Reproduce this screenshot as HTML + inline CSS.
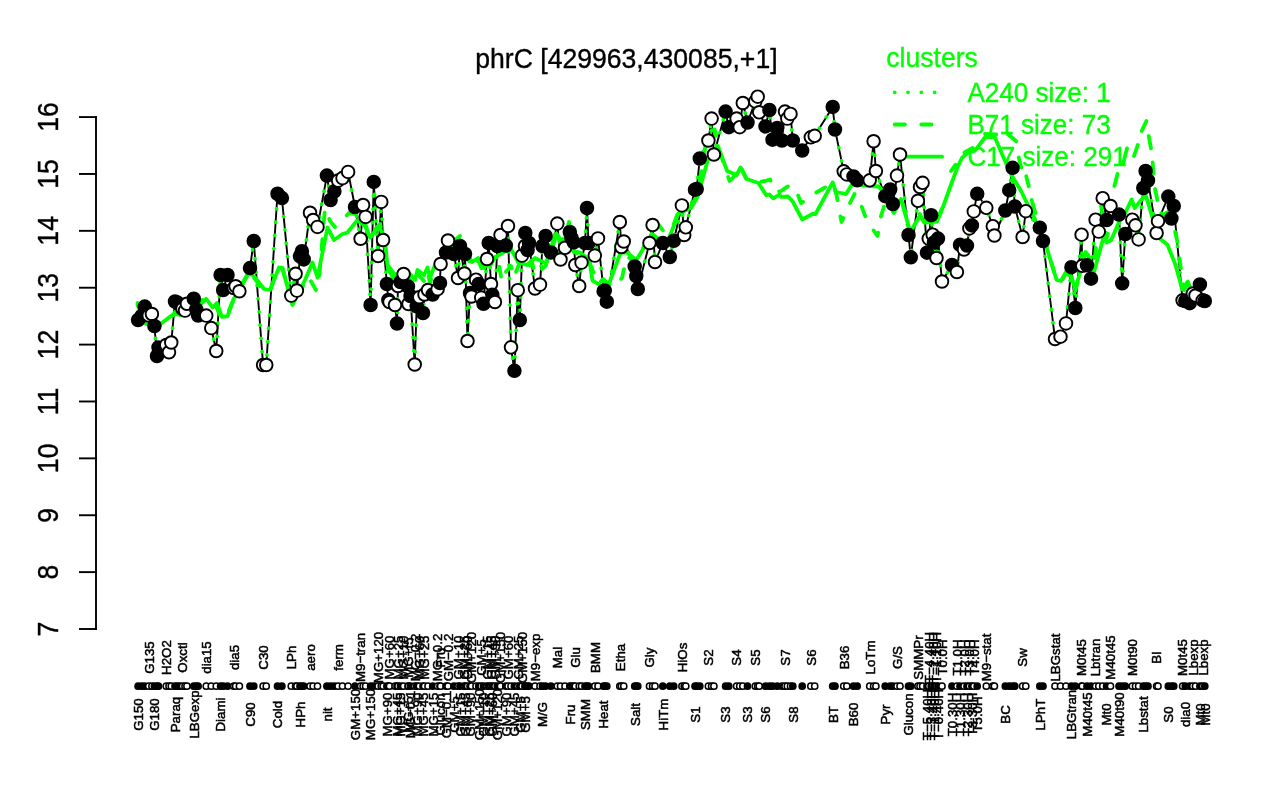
<!DOCTYPE html>
<html lang="en">
<head>
<meta charset="utf-8">
<title>phrC [429963,430085,+1]</title>
<style>
html,body{margin:0;padding:0;background:#fff;}
body{width:1280px;height:800px;overflow:hidden;position:relative;font-family:"Liberation Sans", sans-serif;}
svg{position:absolute;left:0;top:0;display:block;}
text{font-family:"Liberation Sans", sans-serif;}
.big{font-size:26.6px;}
.xl{font-size:13.3px;fill:#000;stroke:#000;stroke-width:0.5;text-anchor:middle;}
.g{fill:#00ff00;stroke:#00ff00;stroke-width:0.35;}
.k{fill:#000;stroke:#000;stroke-width:0.35;}
.pt{stroke:#000;stroke-width:1.9;}
.rg{stroke:#000;stroke-width:1.5;}
</style>
</head>
<body>
<svg width="1280" height="800" viewBox="0 0 1280 800">
<rect x="0" y="0" width="1280" height="800" fill="#fff"/>
<text class="big k" transform="translate(626.4,67.8) scale(1,1.04)" text-anchor="middle">phrC [429963,430085,+1]</text>
<g stroke="#000" stroke-width="1.9" fill="none" stroke-linecap="butt">
<path d="M96,116.15 V629.95"/>
<path d="M79,629 H96.95"/>
<path d="M79,572.12 H96.95"/>
<path d="M79,515.24 H96.95"/>
<path d="M79,458.36 H96.95"/>
<path d="M79,401.48 H96.95"/>
<path d="M79,344.6 H96.95"/>
<path d="M79,287.72 H96.95"/>
<path d="M79,230.84 H96.95"/>
<path d="M79,173.96 H96.95"/>
<path d="M79,117.08 H96.95"/>
</g>
<text class="big k" transform="translate(58,629) rotate(-90) scale(1,1.08)" text-anchor="middle">7</text>
<text class="big k" transform="translate(58,572.12) rotate(-90) scale(1,1.08)" text-anchor="middle">8</text>
<text class="big k" transform="translate(58,515.24) rotate(-90) scale(1,1.08)" text-anchor="middle">9</text>
<text class="big k" transform="translate(58,458.36) rotate(-90) scale(1,1.08)" text-anchor="middle">10</text>
<text class="big k" transform="translate(58,401.48) rotate(-90) scale(1,1.08)" text-anchor="middle">11</text>
<text class="big k" transform="translate(58,344.6) rotate(-90) scale(1,1.08)" text-anchor="middle">12</text>
<text class="big k" transform="translate(58,287.72) rotate(-90) scale(1,1.08)" text-anchor="middle">13</text>
<text class="big k" transform="translate(58,230.84) rotate(-90) scale(1,1.08)" text-anchor="middle">14</text>
<text class="big k" transform="translate(58,173.96) rotate(-90) scale(1,1.08)" text-anchor="middle">15</text>
<text class="big k" transform="translate(58,117.08) rotate(-90) scale(1,1.08)" text-anchor="middle">16</text>
<polyline fill="none" stroke="#000" stroke-width="1.9" stroke-linejoin="round" points="138.1,320 141.6,316 144.75,306.6 148.75,315.5 151.9,314 154.4,326 157,356 158.5,347.5 166.25,345 169,352.25 171.25,342.5 175,301.5 177.25,302.5 179.4,304.4 182.5,308.75 185,310.6 186.9,303.75 193.75,298.75 196.25,309.4 198.1,315.6 206.25,315.6 211.25,328.1 216.25,351 220.6,275 223.1,290 227.5,275 233.75,288 235.6,286.25 239.4,291.25 250,268.1 253.75,241 263.1,365 266.25,365 277.5,193.75 281.9,198.1 291.25,295.6 295.6,273.75 296.9,290.6 300,256.25 301.9,251.25 303.75,259.4 310,212.75 313.1,220 317.5,226.9 326.9,175.6 330.6,200 334.4,191.25 338.1,180.6 342.5,178.1 348.1,171.9 355,207 360.6,238.75 363.1,205 365.6,216.9 370.6,305 373.75,181.9 378.1,256 381.25,201.9 383.1,240 386.9,284 388.3,300 389.5,302 395,305 397,323.5 398,286 400.5,282 403.6,274 408,286.5 408.5,304 410.5,296 414.7,364.5 416.7,306.3 419.3,297.2 423,313 424.5,294.5 428,290 432.7,294.5 437.6,289.2 440,283 440.6,264 446,252.5 448,240.5 454,254 458,278 460,246 464.4,273.5 465,254 467.5,341 470,293 471.5,296.5 476,279.7 478.7,284 481.2,297.6 483.5,303.8 487,259 488.7,243 491,284 492.3,294.7 494.9,302 497.3,246 500.5,235 505.8,245.5 508,226 511,347.3 514.4,370.8 517.8,290.2 519.8,320 522,255.6 525,246 525.3,233 527.6,250 529,243 535,288.5 540,284.6 542.5,246 545.6,236 551,252.5 557.3,223.6 560.5,259.5 565,247.8 569.8,232 571.5,238 573.75,242.3 575.3,265 579.2,286 581.5,262.6 585,243 587,208 588.5,243 594.8,255.6 598,238.4 603.6,291.2 604.8,290.6 606.8,301.7 619.8,222 621.4,247 623.75,241.5 634.7,266.5 636.25,276 637.8,289 649.5,243 652.6,225 655,262 662.8,243 669.8,257 673.75,240.8 681.9,205.4 684.2,235 685.8,227.3 695,189.7 696.7,189 699.8,158.5 708.4,140.5 711.6,118.6 713.9,154.5 725.6,111.6 728.75,127.2 736.6,118.6 739.7,127.2 742.8,103 747.5,122.5 755.3,101.4 757.7,96.7 759.2,112.3 765.5,126.4 769.4,110 772.5,139.7 777.2,128 781.9,140.5 785,111.6 787.3,118.6 790.5,113.9 792.8,140.5 802.2,150.6 810.8,137.3 814.7,135.8 832.7,106.9 835,129.5 843.7,171.3 846.8,174.4 853.5,176.4 857.2,180.3 869.7,180.3 873.6,141.25 875.9,171 885.2,196.2 890.2,189.5 892.9,204 897,175.6 900,154.5 908.5,235 910.8,257.3 917.9,200.8 920,187 922.6,182.8 927,252.7 928.75,238.6 931.2,215.2 932.7,234.7 934,242.5 936.5,258 938,238.6 942,281.5 952,265 956.9,272 960,244.8 964,249.5 967,245.6 969.4,228.4 971.9,225.4 973.8,211.4 977.2,193.8 986.3,207.8 992.8,226.2 994.4,235.5 1005.3,210.5 1009.2,190.2 1012.6,167.8 1014.8,206.5 1022.6,237 1025.8,211.2 1039.8,227.7 1043,241 1055,339 1060.5,336.7 1066,323.4 1071.4,267.2 1075.3,308 1081.6,234.7 1082.3,265.8 1087,265.3 1091,278.7 1095.6,219.7 1098.75,231.6 1102.7,198.2 1106.6,220 1110.5,206 1119,214.6 1122.2,283.3 1125.3,234 1132.3,219.7 1135.5,225.3 1138.6,239.4 1143.3,188 1145.6,171 1148,180.5 1156.6,233 1158,221.2 1168.3,196.6 1171.4,218.5 1173.75,206 1182.6,300.3 1185.3,301 1189.7,303.2 1192.8,293.5 1195.5,295.5 1199.9,284.5 1202.7,300.3 1204.8,301"/>
<polyline fill="none" stroke="#00ff00" stroke-width="3.8" stroke-dasharray="0.01 13.3" stroke-linecap="round" stroke-linejoin="round" points="138.1,320 141.6,316 144.75,306.6 148.75,315.5 151.9,314 154.4,326 157,356 158.5,347.5 166.25,345 169,352.25 171.25,342.5 175,301.5 177.25,302.5 179.4,304.4 182.5,308.75 185,310.6 186.9,303.75 193.75,298.75 196.25,309.4 198.1,315.6 206.25,315.6 211.25,328.1 216.25,351 220.6,275 223.1,290 227.5,275 233.75,288 235.6,286.25 239.4,291.25 250,268.1 253.75,241 263.1,365 266.25,365 277.5,193.75 281.9,198.1 291.25,295.6 295.6,273.75 296.9,290.6 300,256.25 301.9,251.25 303.75,259.4 310,212.75 313.1,220 317.5,226.9 326.9,175.6 330.6,200 334.4,191.25 338.1,180.6 342.5,178.1 348.1,171.9 355,207 360.6,238.75 363.1,205 365.6,216.9 370.6,305 373.75,181.9 378.1,256 381.25,201.9 383.1,240 386.9,284 388.3,300 389.5,302 395,305 397,323.5 398,286 400.5,282 403.6,274 408,286.5 408.5,304 410.5,296 414.7,364.5 416.7,306.3 419.3,297.2 423,313 424.5,294.5 428,290 432.7,294.5 437.6,289.2 440,283 440.6,264 446,252.5 448,240.5 454,254 458,278 460,246 464.4,273.5 465,254 467.5,341 470,293 471.5,296.5 476,279.7 478.7,284 481.2,297.6 483.5,303.8 487,259 488.7,243 491,284 492.3,294.7 494.9,302 497.3,246 500.5,235 505.8,245.5 508,226 511,347.3 514.4,370.8 517.8,290.2 519.8,320 522,255.6 525,246 525.3,233 527.6,250 529,243 535,288.5 540,284.6 542.5,246 545.6,236 551,252.5 557.3,223.6 560.5,259.5 565,247.8 569.8,232 571.5,238 573.75,242.3 575.3,265 579.2,286 581.5,262.6 585,243 587,208 588.5,243 594.8,255.6 598,238.4 603.6,291.2 604.8,290.6 606.8,301.7 619.8,222 621.4,247 623.75,241.5 634.7,266.5 636.25,276 637.8,289 649.5,243 652.6,225 655,262 662.8,243 669.8,257 673.75,240.8 681.9,205.4 684.2,235 685.8,227.3 695,189.7 696.7,189 699.8,158.5 708.4,140.5 711.6,118.6 713.9,154.5 725.6,111.6 728.75,127.2 736.6,118.6 739.7,127.2 742.8,103 747.5,122.5 755.3,101.4 757.7,96.7 759.2,112.3 765.5,126.4 769.4,110 772.5,139.7 777.2,128 781.9,140.5 785,111.6 787.3,118.6 790.5,113.9 792.8,140.5 802.2,150.6 810.8,137.3 814.7,135.8 832.7,106.9 835,129.5 843.7,171.3 846.8,174.4 853.5,176.4 857.2,180.3 869.7,180.3 873.6,141.25 875.9,171 885.2,196.2 890.2,189.5 892.9,204 897,175.6 900,154.5 908.5,235 910.8,257.3 917.9,200.8 920,187 922.6,182.8 927,252.7 928.75,238.6 931.2,215.2 932.7,234.7 934,242.5 936.5,258 938,238.6 942,281.5 952,265 956.9,272 960,244.8 964,249.5 967,245.6 969.4,228.4 971.9,225.4 973.8,211.4 977.2,193.8 986.3,207.8 992.8,226.2 994.4,235.5 1005.3,210.5 1009.2,190.2 1012.6,167.8 1014.8,206.5 1022.6,237 1025.8,211.2 1039.8,227.7 1043,241 1055,339 1060.5,336.7 1066,323.4 1071.4,267.2 1075.3,308 1081.6,234.7 1082.3,265.8 1087,265.3 1091,278.7 1095.6,219.7 1098.75,231.6 1102.7,198.2 1106.6,220 1110.5,206 1119,214.6 1122.2,283.3 1125.3,234 1132.3,219.7 1135.5,225.3 1138.6,239.4 1143.3,188 1145.6,171 1148,180.5 1156.6,233 1158,221.2 1168.3,196.6 1171.4,218.5 1173.75,206 1182.6,300.3 1185.3,301 1189.7,303.2 1192.8,293.5 1195.5,295.5 1199.9,284.5 1202.7,300.3 1204.8,301"/>
<polyline fill="none" stroke="#00ff00" stroke-width="3.8" stroke-dasharray="10.2 16.4" stroke-linecap="round" stroke-linejoin="round" points="137.5,303 146,322 156,328 162.5,324 171,318 175,312 180,313 190,307 202.5,300 210,309 216,306 221,318 226,318 232.5,302 240,288 249,271 255,279 264,292 270,291 279,266 282.5,268 292.5,306 305,282 308,276 316.5,291 319,280 325,208 330,221 335,227 341,221 349,213 357.5,214 365,222 370,240 376,228 380,224 385,244 387.5,268 395,281 405,274 410,280 415,286 417.5,274 424,281 427.5,271 430,283 435,268 445,256 450,246 455,240 460,236 466,254 472,268 478,260 484,274 490,266 497,254 502,282 505.8,272 511,266 513.6,278 520,262 527,270 532,262 535,275 545.6,266 553.4,240 557,228 560,243 566,232 569,222 573.75,252 580,254 589.4,262 598,284 603.4,279 609.7,286 616,284 622,278 626.9,256 636.25,264 644,246 651.9,230 658,224 665,233 673.75,224 678.4,212 691,206 697.5,195 703,160 708,132 714.7,129.5 720,152 725.6,169.4 729.5,181 736.6,174 740.5,166 746.7,180 758.4,182 765,181 770,179.5 775,192 781,191 790,185 796,190 801,203 806,200 810,196 819,191 832.7,183 836.5,195 841.5,222 846,212 849,205 855,193 860,202 867,221 877.5,236 881,216 884.5,205 888,202 894,213 901,197 910.3,234 919.7,214 925,224 937,220 943,206 946,196"/>
<polyline fill="none" stroke="#00ff00" stroke-width="3.8" stroke-dasharray="10.2 16.4" stroke-dashoffset="-8" stroke-linecap="round" stroke-linejoin="round" points="1160,208 1163,215 1168,212 1174.5,229 1177,240 1180.8,267.5 1184,290 1187.8,283 1192,293 1198,297 1206,301"/>
<polyline fill="none" stroke="#00ff00" stroke-width="3.8" stroke-dasharray="10.2 16.4" stroke-dashoffset="-10" stroke-linecap="round" stroke-linejoin="round" points="1040,228 1047,247 1056.6,281 1061,282 1066,273 1071,277 1075.3,291 1081.6,266 1084,249 1088.6,256.5 1094,270 1098.75,212.8 1101,205.8 1106.6,238 1111.25,222"/>
<path fill="none" stroke="#00ff00" stroke-width="3.8" stroke-linecap="round" d="M951,171 L955.6,164.7 M964.5,152.5 L972.5,148 M985,134 L996.25,134.5 M1007.5,133.75 L1016.25,141.25 M1018.75,157.5 L1021.25,167.5 M1026.25,176.25 L1028.75,186.25 M1031.6,200 L1035.5,213 M1114.4,186 L1117.5,174 M1123,164 L1127,148.4 M1134,156 L1137.8,145 M1141.7,131 L1146.4,121 M1148.75,136 L1151,148.4 M1152.7,162.5 L1153.4,173.4 M1155,189 L1157.3,200"/>
<polyline fill="none" stroke="#00ff00" stroke-width="3.8" stroke-linecap="round" stroke-linejoin="round" points="137.5,305 146,324 156,326 162.5,322.5 171,316 175,314 180,315 190,309 200,305 206.25,298.75 212.5,307.5 216.9,303 221.9,316.9 227.5,316.25 233.75,298.75 240,289 249,272.5 255,277.5 264,289 270,290 279,267.5 282.5,269 292.5,305 305,280 312.5,262.5 317.5,277.5 327.5,227.5 334,240 342.5,234 347.5,232.5 357.5,220 365,226 370,237.5 376,230 380,227.5 385,242.5 387.5,265 395,275 405,270 410,274 415,280 417.5,270 424,275 427.5,267.5 430,277.5 435,265 445,258 450,250 455,245 460,240 466,252 472,262 478,258 484,268 490,262 497,256 504,252 511,249 518,262 527,265 535,258 545.6,263.4 553.4,244.7 556.6,233.75 560,240 566,238 573.75,251 580,252.5 589.4,260 592.5,280.6 603.4,287 609.7,282 620.6,252.5 626.9,252.5 636.25,260 644,247.8 651.9,233.75 658,238.4 667.5,241.5 673.75,226 678.4,213.4 691,208 697.5,197 708.4,157.8 717.8,146 727.2,171 736.6,175 740.5,167.5 746.7,179 758.4,183 766.25,195.2 769.4,194.5 773.3,198.4 779.5,194.5 781,196.8 788,196.5 792.8,201.6 802.2,219.5 812.3,214 815.5,214 832.7,182.4 836,192 846,194 852.5,183.4 860,185 870,186 879,186.5 886,196 893,211.5 901,199 910.3,232 919.7,216 925,222.5 937,221.7 943,207 952,182 958,166 961.9,158 968,152.5 975,150.6 985.3,137 994.7,137 1010,172.5 1021,191 1035,219.4 1047,248.75 1056.6,280 1061,281 1066,272 1071,276 1075.3,289.4 1081.6,267.5 1085.5,252 1088,255 1094,272 1103.4,237.8 1106.6,242.5 1111.25,240 1119,222 1125.3,212.8 1131.6,199.5 1134.7,208 1145.6,194.8 1153.4,220.6 1159.7,238.6 1167.5,244.8 1175.3,264.4 1182.3,289.4 1187.8,281.6 1192,292 1198,296 1206,300"/>
<text class="big g" transform="translate(886.3,67.2) scale(1,1.04)">clusters</text>
<path d="M894.7,92.3 H942.1" fill="none" stroke-linecap="round" stroke="#00ff00" stroke-width="3.8" stroke-dasharray="0.01 13.3"/>
<text class="big g" transform="translate(967.4,102) scale(0.98,1.04)">A240 size: 1</text>
<path d="M894.7,124.5 H942.1" fill="none" stroke-linecap="round" stroke="#00ff00" stroke-width="3.8" stroke-dasharray="10.2 16.4"/>
<text class="big g" transform="translate(967.4,134.2) scale(0.98,1.04)">B71 size: 73</text>
<path d="M894.7,156.7 H942.1" fill="none" stroke-linecap="round" stroke="#00ff00" stroke-width="3.8"/>
<text class="big g" transform="translate(967.4,166.4) scale(0.98,1.04)">C17 size: 291</text>
<circle class="pt" cx="138.1" cy="320" r="6.3" fill="#000"/>
<circle class="pt" cx="141.6" cy="316" r="6.3" fill="#000"/>
<circle class="pt" cx="144.75" cy="306.6" r="6.3" fill="#000"/>
<circle class="pt" cx="148.75" cy="315.5" r="6.3" fill="#fff"/>
<circle class="pt" cx="151.9" cy="314" r="6.3" fill="#fff"/>
<circle class="pt" cx="154.4" cy="326" r="6.3" fill="#000"/>
<circle class="pt" cx="157" cy="356" r="6.3" fill="#000"/>
<circle class="pt" cx="158.5" cy="347.5" r="6.3" fill="#000"/>
<circle class="pt" cx="166.25" cy="345" r="6.3" fill="#fff"/>
<circle class="pt" cx="169" cy="352.25" r="6.3" fill="#fff"/>
<circle class="pt" cx="171.25" cy="342.5" r="6.3" fill="#fff"/>
<circle class="pt" cx="175" cy="301.5" r="6.3" fill="#000"/>
<circle class="pt" cx="177.25" cy="302.5" r="6.3" fill="#000"/>
<circle class="pt" cx="179.4" cy="304.4" r="6.3" fill="#000"/>
<circle class="pt" cx="182.5" cy="308.75" r="6.3" fill="#fff"/>
<circle class="pt" cx="185" cy="310.6" r="6.3" fill="#fff"/>
<circle class="pt" cx="186.9" cy="303.75" r="6.3" fill="#fff"/>
<circle class="pt" cx="193.75" cy="298.75" r="6.3" fill="#000"/>
<circle class="pt" cx="196.25" cy="309.4" r="6.3" fill="#000"/>
<circle class="pt" cx="198.1" cy="315.6" r="6.3" fill="#000"/>
<circle class="pt" cx="206.25" cy="315.6" r="6.3" fill="#fff"/>
<circle class="pt" cx="211.25" cy="328.1" r="6.3" fill="#fff"/>
<circle class="pt" cx="216.25" cy="351" r="6.3" fill="#fff"/>
<circle class="pt" cx="220.6" cy="275" r="6.3" fill="#000"/>
<circle class="pt" cx="223.1" cy="290" r="6.3" fill="#000"/>
<circle class="pt" cx="227.5" cy="275" r="6.3" fill="#000"/>
<circle class="pt" cx="233.75" cy="288" r="6.3" fill="#fff"/>
<circle class="pt" cx="235.6" cy="286.25" r="6.3" fill="#fff"/>
<circle class="pt" cx="239.4" cy="291.25" r="6.3" fill="#fff"/>
<circle class="pt" cx="250" cy="268.1" r="6.3" fill="#000"/>
<circle class="pt" cx="253.75" cy="241" r="6.3" fill="#000"/>
<circle class="pt" cx="263.1" cy="365" r="6.3" fill="#fff"/>
<circle class="pt" cx="266.25" cy="365" r="6.3" fill="#fff"/>
<circle class="pt" cx="277.5" cy="193.75" r="6.3" fill="#000"/>
<circle class="pt" cx="281.9" cy="198.1" r="6.3" fill="#000"/>
<circle class="pt" cx="291.25" cy="295.6" r="6.3" fill="#fff"/>
<circle class="pt" cx="295.6" cy="273.75" r="6.3" fill="#fff"/>
<circle class="pt" cx="296.9" cy="290.6" r="6.3" fill="#fff"/>
<circle class="pt" cx="300" cy="256.25" r="6.3" fill="#000"/>
<circle class="pt" cx="301.9" cy="251.25" r="6.3" fill="#000"/>
<circle class="pt" cx="303.75" cy="259.4" r="6.3" fill="#000"/>
<circle class="pt" cx="310" cy="212.75" r="6.3" fill="#fff"/>
<circle class="pt" cx="313.1" cy="220" r="6.3" fill="#fff"/>
<circle class="pt" cx="317.5" cy="226.9" r="6.3" fill="#fff"/>
<circle class="pt" cx="326.9" cy="175.6" r="6.3" fill="#000"/>
<circle class="pt" cx="330.6" cy="200" r="6.3" fill="#000"/>
<circle class="pt" cx="334.4" cy="191.25" r="6.3" fill="#000"/>
<circle class="pt" cx="338.1" cy="180.6" r="6.3" fill="#fff"/>
<circle class="pt" cx="342.5" cy="178.1" r="6.3" fill="#fff"/>
<circle class="pt" cx="348.1" cy="171.9" r="6.3" fill="#fff"/>
<circle class="pt" cx="355" cy="207" r="6.3" fill="#000"/>
<circle class="pt" cx="360.6" cy="238.75" r="6.3" fill="#fff"/>
<circle class="pt" cx="363.1" cy="205" r="6.3" fill="#fff"/>
<circle class="pt" cx="365.6" cy="216.9" r="6.3" fill="#fff"/>
<circle class="pt" cx="370.6" cy="305" r="6.3" fill="#000"/>
<circle class="pt" cx="373.75" cy="181.9" r="6.3" fill="#000"/>
<circle class="pt" cx="378.1" cy="256" r="6.3" fill="#fff"/>
<circle class="pt" cx="381.25" cy="201.9" r="6.3" fill="#fff"/>
<circle class="pt" cx="383.1" cy="240" r="6.3" fill="#fff"/>
<circle class="pt" cx="386.9" cy="284" r="6.3" fill="#000"/>
<circle class="pt" cx="388.3" cy="300" r="6.3" fill="#000"/>
<circle class="pt" cx="389.5" cy="302" r="6.3" fill="#fff"/>
<circle class="pt" cx="395" cy="305" r="6.3" fill="#fff"/>
<circle class="pt" cx="397" cy="323.5" r="6.3" fill="#000"/>
<circle class="pt" cx="398" cy="286" r="6.3" fill="#fff"/>
<circle class="pt" cx="400.5" cy="282" r="6.3" fill="#000"/>
<circle class="pt" cx="403.6" cy="274" r="6.3" fill="#fff"/>
<circle class="pt" cx="408" cy="286.5" r="6.3" fill="#000"/>
<circle class="pt" cx="408.5" cy="304" r="6.3" fill="#fff"/>
<circle class="pt" cx="410.5" cy="296" r="6.3" fill="#000"/>
<circle class="pt" cx="414.7" cy="364.5" r="6.3" fill="#fff"/>
<circle class="pt" cx="416.7" cy="306.3" r="6.3" fill="#000"/>
<circle class="pt" cx="419.3" cy="297.2" r="6.3" fill="#fff"/>
<circle class="pt" cx="423" cy="313" r="6.3" fill="#000"/>
<circle class="pt" cx="424.5" cy="294.5" r="6.3" fill="#fff"/>
<circle class="pt" cx="428" cy="290" r="6.3" fill="#fff"/>
<circle class="pt" cx="432.7" cy="294.5" r="6.3" fill="#000"/>
<circle class="pt" cx="437.6" cy="289.2" r="6.3" fill="#fff"/>
<circle class="pt" cx="440" cy="283" r="6.3" fill="#000"/>
<circle class="pt" cx="440.6" cy="264" r="6.3" fill="#fff"/>
<circle class="pt" cx="446" cy="252.5" r="6.3" fill="#000"/>
<circle class="pt" cx="448" cy="240.5" r="6.3" fill="#fff"/>
<circle class="pt" cx="454" cy="254" r="6.3" fill="#000"/>
<circle class="pt" cx="458" cy="278" r="6.3" fill="#fff"/>
<circle class="pt" cx="460" cy="246" r="6.3" fill="#000"/>
<circle class="pt" cx="464.4" cy="273.5" r="6.3" fill="#fff"/>
<circle class="pt" cx="465" cy="254" r="6.3" fill="#000"/>
<circle class="pt" cx="467.5" cy="341" r="6.3" fill="#fff"/>
<circle class="pt" cx="470" cy="293" r="6.3" fill="#000"/>
<circle class="pt" cx="471.5" cy="296.5" r="6.3" fill="#fff"/>
<circle class="pt" cx="476" cy="279.7" r="6.3" fill="#fff"/>
<circle class="pt" cx="478.7" cy="284" r="6.3" fill="#000"/>
<circle class="pt" cx="481.2" cy="297.6" r="6.3" fill="#fff"/>
<circle class="pt" cx="483.5" cy="303.8" r="6.3" fill="#000"/>
<circle class="pt" cx="487" cy="259" r="6.3" fill="#fff"/>
<circle class="pt" cx="488.7" cy="243" r="6.3" fill="#000"/>
<circle class="pt" cx="491" cy="284" r="6.3" fill="#fff"/>
<circle class="pt" cx="492.3" cy="294.7" r="6.3" fill="#000"/>
<circle class="pt" cx="494.9" cy="302" r="6.3" fill="#fff"/>
<circle class="pt" cx="497.3" cy="246" r="6.3" fill="#000"/>
<circle class="pt" cx="500.5" cy="235" r="6.3" fill="#fff"/>
<circle class="pt" cx="505.8" cy="245.5" r="6.3" fill="#000"/>
<circle class="pt" cx="508" cy="226" r="6.3" fill="#fff"/>
<circle class="pt" cx="511" cy="347.3" r="6.3" fill="#fff"/>
<circle class="pt" cx="514.4" cy="370.8" r="6.3" fill="#000"/>
<circle class="pt" cx="517.8" cy="290.2" r="6.3" fill="#fff"/>
<circle class="pt" cx="519.8" cy="320" r="6.3" fill="#000"/>
<circle class="pt" cx="522" cy="255.6" r="6.3" fill="#fff"/>
<circle class="pt" cx="525" cy="246" r="6.3" fill="#fff"/>
<circle class="pt" cx="525.3" cy="233" r="6.3" fill="#000"/>
<circle class="pt" cx="527.6" cy="250" r="6.3" fill="#000"/>
<circle class="pt" cx="529" cy="243" r="6.3" fill="#000"/>
<circle class="pt" cx="535" cy="288.5" r="6.3" fill="#fff"/>
<circle class="pt" cx="540" cy="284.6" r="6.3" fill="#fff"/>
<circle class="pt" cx="542.5" cy="246" r="6.3" fill="#000"/>
<circle class="pt" cx="545.6" cy="236" r="6.3" fill="#000"/>
<circle class="pt" cx="551" cy="252.5" r="6.3" fill="#000"/>
<circle class="pt" cx="557.3" cy="223.6" r="6.3" fill="#fff"/>
<circle class="pt" cx="560.5" cy="259.5" r="6.3" fill="#fff"/>
<circle class="pt" cx="565" cy="247.8" r="6.3" fill="#fff"/>
<circle class="pt" cx="569.8" cy="232" r="6.3" fill="#000"/>
<circle class="pt" cx="571.5" cy="238" r="6.3" fill="#000"/>
<circle class="pt" cx="573.75" cy="242.3" r="6.3" fill="#000"/>
<circle class="pt" cx="575.3" cy="265" r="6.3" fill="#fff"/>
<circle class="pt" cx="579.2" cy="286" r="6.3" fill="#fff"/>
<circle class="pt" cx="581.5" cy="262.6" r="6.3" fill="#fff"/>
<circle class="pt" cx="585" cy="243" r="6.3" fill="#000"/>
<circle class="pt" cx="587" cy="208" r="6.3" fill="#000"/>
<circle class="pt" cx="588.5" cy="243" r="6.3" fill="#000"/>
<circle class="pt" cx="594.8" cy="255.6" r="6.3" fill="#fff"/>
<circle class="pt" cx="598" cy="238.4" r="6.3" fill="#fff"/>
<circle class="pt" cx="603.6" cy="291.2" r="6.3" fill="#000"/>
<circle class="pt" cx="604.8" cy="290.6" r="6.3" fill="#000"/>
<circle class="pt" cx="606.8" cy="301.7" r="6.3" fill="#000"/>
<circle class="pt" cx="619.8" cy="222" r="6.3" fill="#fff"/>
<circle class="pt" cx="621.4" cy="247" r="6.3" fill="#fff"/>
<circle class="pt" cx="623.75" cy="241.5" r="6.3" fill="#fff"/>
<circle class="pt" cx="634.7" cy="266.5" r="6.3" fill="#000"/>
<circle class="pt" cx="636.25" cy="276" r="6.3" fill="#000"/>
<circle class="pt" cx="637.8" cy="289" r="6.3" fill="#000"/>
<circle class="pt" cx="649.5" cy="243" r="6.3" fill="#fff"/>
<circle class="pt" cx="652.6" cy="225" r="6.3" fill="#fff"/>
<circle class="pt" cx="655" cy="262" r="6.3" fill="#fff"/>
<circle class="pt" cx="662.8" cy="243" r="6.3" fill="#000"/>
<circle class="pt" cx="669.8" cy="257" r="6.3" fill="#000"/>
<circle class="pt" cx="673.75" cy="240.8" r="6.3" fill="#000"/>
<circle class="pt" cx="681.9" cy="205.4" r="6.3" fill="#fff"/>
<circle class="pt" cx="684.2" cy="235" r="6.3" fill="#fff"/>
<circle class="pt" cx="685.8" cy="227.3" r="6.3" fill="#fff"/>
<circle class="pt" cx="695" cy="189.7" r="6.3" fill="#000"/>
<circle class="pt" cx="696.7" cy="189" r="6.3" fill="#000"/>
<circle class="pt" cx="699.8" cy="158.5" r="6.3" fill="#000"/>
<circle class="pt" cx="708.4" cy="140.5" r="6.3" fill="#fff"/>
<circle class="pt" cx="711.6" cy="118.6" r="6.3" fill="#fff"/>
<circle class="pt" cx="713.9" cy="154.5" r="6.3" fill="#fff"/>
<circle class="pt" cx="725.6" cy="111.6" r="6.3" fill="#000"/>
<circle class="pt" cx="728.75" cy="127.2" r="6.3" fill="#000"/>
<circle class="pt" cx="736.6" cy="118.6" r="6.3" fill="#fff"/>
<circle class="pt" cx="739.7" cy="127.2" r="6.3" fill="#fff"/>
<circle class="pt" cx="742.8" cy="103" r="6.3" fill="#fff"/>
<circle class="pt" cx="747.5" cy="122.5" r="6.3" fill="#000"/>
<circle class="pt" cx="755.3" cy="101.4" r="6.3" fill="#fff"/>
<circle class="pt" cx="757.7" cy="96.7" r="6.3" fill="#fff"/>
<circle class="pt" cx="759.2" cy="112.3" r="6.3" fill="#fff"/>
<circle class="pt" cx="765.5" cy="126.4" r="6.3" fill="#000"/>
<circle class="pt" cx="769.4" cy="110" r="6.3" fill="#000"/>
<circle class="pt" cx="772.5" cy="139.7" r="6.3" fill="#000"/>
<circle class="pt" cx="777.2" cy="128" r="6.3" fill="#000"/>
<circle class="pt" cx="781.9" cy="140.5" r="6.3" fill="#000"/>
<circle class="pt" cx="785" cy="111.6" r="6.3" fill="#fff"/>
<circle class="pt" cx="787.3" cy="118.6" r="6.3" fill="#fff"/>
<circle class="pt" cx="790.5" cy="113.9" r="6.3" fill="#fff"/>
<circle class="pt" cx="792.8" cy="140.5" r="6.3" fill="#000"/>
<circle class="pt" cx="802.2" cy="150.6" r="6.3" fill="#000"/>
<circle class="pt" cx="810.8" cy="137.3" r="6.3" fill="#fff"/>
<circle class="pt" cx="814.7" cy="135.8" r="6.3" fill="#fff"/>
<circle class="pt" cx="832.7" cy="106.9" r="6.3" fill="#000"/>
<circle class="pt" cx="835" cy="129.5" r="6.3" fill="#000"/>
<circle class="pt" cx="843.7" cy="171.3" r="6.3" fill="#fff"/>
<circle class="pt" cx="846.8" cy="174.4" r="6.3" fill="#fff"/>
<circle class="pt" cx="853.5" cy="176.4" r="6.3" fill="#000"/>
<circle class="pt" cx="857.2" cy="180.3" r="6.3" fill="#000"/>
<circle class="pt" cx="869.7" cy="180.3" r="6.3" fill="#fff"/>
<circle class="pt" cx="873.6" cy="141.25" r="6.3" fill="#fff"/>
<circle class="pt" cx="875.9" cy="171" r="6.3" fill="#fff"/>
<circle class="pt" cx="885.2" cy="196.2" r="6.3" fill="#000"/>
<circle class="pt" cx="890.2" cy="189.5" r="6.3" fill="#000"/>
<circle class="pt" cx="892.9" cy="204" r="6.3" fill="#000"/>
<circle class="pt" cx="897" cy="175.6" r="6.3" fill="#fff"/>
<circle class="pt" cx="900" cy="154.5" r="6.3" fill="#fff"/>
<circle class="pt" cx="908.5" cy="235" r="6.3" fill="#000"/>
<circle class="pt" cx="910.8" cy="257.3" r="6.3" fill="#000"/>
<circle class="pt" cx="917.9" cy="200.8" r="6.3" fill="#fff"/>
<circle class="pt" cx="920" cy="187" r="6.3" fill="#fff"/>
<circle class="pt" cx="922.6" cy="182.8" r="6.3" fill="#fff"/>
<circle class="pt" cx="927" cy="252.7" r="6.3" fill="#000"/>
<circle class="pt" cx="928.75" cy="238.6" r="6.3" fill="#fff"/>
<circle class="pt" cx="931.2" cy="215.2" r="6.3" fill="#000"/>
<circle class="pt" cx="932.7" cy="234.7" r="6.3" fill="#fff"/>
<circle class="pt" cx="934" cy="242.5" r="6.3" fill="#000"/>
<circle class="pt" cx="936.5" cy="258" r="6.3" fill="#fff"/>
<circle class="pt" cx="938" cy="238.6" r="6.3" fill="#000"/>
<circle class="pt" cx="942" cy="281.5" r="6.3" fill="#fff"/>
<circle class="pt" cx="952" cy="265" r="6.3" fill="#000"/>
<circle class="pt" cx="956.9" cy="272" r="6.3" fill="#fff"/>
<circle class="pt" cx="960" cy="244.8" r="6.3" fill="#000"/>
<circle class="pt" cx="964" cy="249.5" r="6.3" fill="#fff"/>
<circle class="pt" cx="967" cy="245.6" r="6.3" fill="#000"/>
<circle class="pt" cx="969.4" cy="228.4" r="6.3" fill="#fff"/>
<circle class="pt" cx="971.9" cy="225.4" r="6.3" fill="#000"/>
<circle class="pt" cx="973.8" cy="211.4" r="6.3" fill="#fff"/>
<circle class="pt" cx="977.2" cy="193.8" r="6.3" fill="#000"/>
<circle class="pt" cx="986.3" cy="207.8" r="6.3" fill="#fff"/>
<circle class="pt" cx="992.8" cy="226.2" r="6.3" fill="#fff"/>
<circle class="pt" cx="994.4" cy="235.5" r="6.3" fill="#fff"/>
<circle class="pt" cx="1005.3" cy="210.5" r="6.3" fill="#000"/>
<circle class="pt" cx="1009.2" cy="190.2" r="6.3" fill="#000"/>
<circle class="pt" cx="1012.6" cy="167.8" r="6.3" fill="#000"/>
<circle class="pt" cx="1014.8" cy="206.5" r="6.3" fill="#000"/>
<circle class="pt" cx="1022.6" cy="237" r="6.3" fill="#fff"/>
<circle class="pt" cx="1025.8" cy="211.2" r="6.3" fill="#fff"/>
<circle class="pt" cx="1039.8" cy="227.7" r="6.3" fill="#000"/>
<circle class="pt" cx="1043" cy="241" r="6.3" fill="#000"/>
<circle class="pt" cx="1055" cy="339" r="6.3" fill="#fff"/>
<circle class="pt" cx="1060.5" cy="336.7" r="6.3" fill="#fff"/>
<circle class="pt" cx="1066" cy="323.4" r="6.3" fill="#fff"/>
<circle class="pt" cx="1071.4" cy="267.2" r="6.3" fill="#000"/>
<circle class="pt" cx="1075.3" cy="308" r="6.3" fill="#000"/>
<circle class="pt" cx="1081.6" cy="234.7" r="6.3" fill="#fff"/>
<circle class="pt" cx="1082.3" cy="265.8" r="6.3" fill="#fff"/>
<circle class="pt" cx="1087" cy="265.3" r="6.3" fill="#000"/>
<circle class="pt" cx="1091" cy="278.7" r="6.3" fill="#000"/>
<circle class="pt" cx="1095.6" cy="219.7" r="6.3" fill="#fff"/>
<circle class="pt" cx="1098.75" cy="231.6" r="6.3" fill="#fff"/>
<circle class="pt" cx="1102.7" cy="198.2" r="6.3" fill="#fff"/>
<circle class="pt" cx="1106.6" cy="220" r="6.3" fill="#000"/>
<circle class="pt" cx="1110.5" cy="206" r="6.3" fill="#fff"/>
<circle class="pt" cx="1119" cy="214.6" r="6.3" fill="#000"/>
<circle class="pt" cx="1122.2" cy="283.3" r="6.3" fill="#000"/>
<circle class="pt" cx="1125.3" cy="234" r="6.3" fill="#000"/>
<circle class="pt" cx="1132.3" cy="219.7" r="6.3" fill="#fff"/>
<circle class="pt" cx="1135.5" cy="225.3" r="6.3" fill="#fff"/>
<circle class="pt" cx="1138.6" cy="239.4" r="6.3" fill="#fff"/>
<circle class="pt" cx="1143.3" cy="188" r="6.3" fill="#000"/>
<circle class="pt" cx="1145.6" cy="171" r="6.3" fill="#000"/>
<circle class="pt" cx="1148" cy="180.5" r="6.3" fill="#000"/>
<circle class="pt" cx="1156.6" cy="233" r="6.3" fill="#fff"/>
<circle class="pt" cx="1158" cy="221.2" r="6.3" fill="#fff"/>
<circle class="pt" cx="1168.3" cy="196.6" r="6.3" fill="#000"/>
<circle class="pt" cx="1171.4" cy="218.5" r="6.3" fill="#000"/>
<circle class="pt" cx="1173.75" cy="206" r="6.3" fill="#000"/>
<circle class="pt" cx="1182.6" cy="300.3" r="6.3" fill="#fff"/>
<circle class="pt" cx="1185.3" cy="301" r="6.3" fill="#000"/>
<circle class="pt" cx="1189.7" cy="303.2" r="6.3" fill="#000"/>
<circle class="pt" cx="1192.8" cy="293.5" r="6.3" fill="#fff"/>
<circle class="pt" cx="1195.5" cy="295.5" r="6.3" fill="#fff"/>
<circle class="pt" cx="1199.9" cy="284.5" r="6.3" fill="#000"/>
<circle class="pt" cx="1202.7" cy="300.3" r="6.3" fill="#fff"/>
<circle class="pt" cx="1204.8" cy="301" r="6.3" fill="#000"/>
<circle class="rg" cx="138.1" cy="686.2" r="3.1" fill="#000"/>
<circle class="rg" cx="141.6" cy="686.2" r="3.1" fill="#000"/>
<circle class="rg" cx="144.75" cy="686.2" r="3.1" fill="#000"/>
<circle class="rg" cx="148.75" cy="686.2" r="3.1" fill="#fff"/>
<circle class="rg" cx="151.9" cy="686.2" r="3.1" fill="#fff"/>
<circle class="rg" cx="154.4" cy="686.2" r="3.1" fill="#000"/>
<circle class="rg" cx="157" cy="686.2" r="3.1" fill="#000"/>
<circle class="rg" cx="158.5" cy="686.2" r="3.1" fill="#000"/>
<circle class="rg" cx="166.25" cy="686.2" r="3.1" fill="#fff"/>
<circle class="rg" cx="169" cy="686.2" r="3.1" fill="#fff"/>
<circle class="rg" cx="171.25" cy="686.2" r="3.1" fill="#fff"/>
<circle class="rg" cx="175" cy="686.2" r="3.1" fill="#000"/>
<circle class="rg" cx="177.25" cy="686.2" r="3.1" fill="#000"/>
<circle class="rg" cx="179.4" cy="686.2" r="3.1" fill="#000"/>
<circle class="rg" cx="182.5" cy="686.2" r="3.1" fill="#fff"/>
<circle class="rg" cx="185" cy="686.2" r="3.1" fill="#fff"/>
<circle class="rg" cx="186.9" cy="686.2" r="3.1" fill="#fff"/>
<circle class="rg" cx="193.75" cy="686.2" r="3.1" fill="#000"/>
<circle class="rg" cx="196.25" cy="686.2" r="3.1" fill="#000"/>
<circle class="rg" cx="198.1" cy="686.2" r="3.1" fill="#000"/>
<circle class="rg" cx="206.25" cy="686.2" r="3.1" fill="#fff"/>
<circle class="rg" cx="211.25" cy="686.2" r="3.1" fill="#fff"/>
<circle class="rg" cx="216.25" cy="686.2" r="3.1" fill="#fff"/>
<circle class="rg" cx="220.6" cy="686.2" r="3.1" fill="#000"/>
<circle class="rg" cx="223.1" cy="686.2" r="3.1" fill="#000"/>
<circle class="rg" cx="227.5" cy="686.2" r="3.1" fill="#000"/>
<circle class="rg" cx="233.75" cy="686.2" r="3.1" fill="#fff"/>
<circle class="rg" cx="235.6" cy="686.2" r="3.1" fill="#fff"/>
<circle class="rg" cx="239.4" cy="686.2" r="3.1" fill="#fff"/>
<circle class="rg" cx="250" cy="686.2" r="3.1" fill="#000"/>
<circle class="rg" cx="253.75" cy="686.2" r="3.1" fill="#000"/>
<circle class="rg" cx="263.1" cy="686.2" r="3.1" fill="#fff"/>
<circle class="rg" cx="266.25" cy="686.2" r="3.1" fill="#fff"/>
<circle class="rg" cx="277.5" cy="686.2" r="3.1" fill="#000"/>
<circle class="rg" cx="281.9" cy="686.2" r="3.1" fill="#000"/>
<circle class="rg" cx="291.25" cy="686.2" r="3.1" fill="#fff"/>
<circle class="rg" cx="295.6" cy="686.2" r="3.1" fill="#fff"/>
<circle class="rg" cx="296.9" cy="686.2" r="3.1" fill="#fff"/>
<circle class="rg" cx="300" cy="686.2" r="3.1" fill="#000"/>
<circle class="rg" cx="301.9" cy="686.2" r="3.1" fill="#000"/>
<circle class="rg" cx="303.75" cy="686.2" r="3.1" fill="#000"/>
<circle class="rg" cx="310" cy="686.2" r="3.1" fill="#fff"/>
<circle class="rg" cx="313.1" cy="686.2" r="3.1" fill="#fff"/>
<circle class="rg" cx="317.5" cy="686.2" r="3.1" fill="#fff"/>
<circle class="rg" cx="326.9" cy="686.2" r="3.1" fill="#000"/>
<circle class="rg" cx="330.6" cy="686.2" r="3.1" fill="#000"/>
<circle class="rg" cx="334.4" cy="686.2" r="3.1" fill="#000"/>
<circle class="rg" cx="338.1" cy="686.2" r="3.1" fill="#fff"/>
<circle class="rg" cx="342.5" cy="686.2" r="3.1" fill="#fff"/>
<circle class="rg" cx="348.1" cy="686.2" r="3.1" fill="#fff"/>
<circle class="rg" cx="355" cy="686.2" r="3.1" fill="#000"/>
<circle class="rg" cx="360.6" cy="686.2" r="3.1" fill="#fff"/>
<circle class="rg" cx="363.1" cy="686.2" r="3.1" fill="#fff"/>
<circle class="rg" cx="365.6" cy="686.2" r="3.1" fill="#fff"/>
<circle class="rg" cx="370.6" cy="686.2" r="3.1" fill="#000"/>
<circle class="rg" cx="373.75" cy="686.2" r="3.1" fill="#000"/>
<circle class="rg" cx="378.1" cy="686.2" r="3.1" fill="#fff"/>
<circle class="rg" cx="381.25" cy="686.2" r="3.1" fill="#fff"/>
<circle class="rg" cx="383.1" cy="686.2" r="3.1" fill="#fff"/>
<circle class="rg" cx="386.9" cy="686.2" r="3.1" fill="#000"/>
<circle class="rg" cx="388.3" cy="686.2" r="3.1" fill="#000"/>
<circle class="rg" cx="389.5" cy="686.2" r="3.1" fill="#fff"/>
<circle class="rg" cx="395" cy="686.2" r="3.1" fill="#fff"/>
<circle class="rg" cx="397" cy="686.2" r="3.1" fill="#000"/>
<circle class="rg" cx="398" cy="686.2" r="3.1" fill="#fff"/>
<circle class="rg" cx="400.5" cy="686.2" r="3.1" fill="#000"/>
<circle class="rg" cx="403.6" cy="686.2" r="3.1" fill="#fff"/>
<circle class="rg" cx="408" cy="686.2" r="3.1" fill="#000"/>
<circle class="rg" cx="408.5" cy="686.2" r="3.1" fill="#fff"/>
<circle class="rg" cx="410.5" cy="686.2" r="3.1" fill="#000"/>
<circle class="rg" cx="414.7" cy="686.2" r="3.1" fill="#fff"/>
<circle class="rg" cx="416.7" cy="686.2" r="3.1" fill="#000"/>
<circle class="rg" cx="419.3" cy="686.2" r="3.1" fill="#fff"/>
<circle class="rg" cx="423" cy="686.2" r="3.1" fill="#000"/>
<circle class="rg" cx="424.5" cy="686.2" r="3.1" fill="#fff"/>
<circle class="rg" cx="428" cy="686.2" r="3.1" fill="#fff"/>
<circle class="rg" cx="432.7" cy="686.2" r="3.1" fill="#000"/>
<circle class="rg" cx="437.6" cy="686.2" r="3.1" fill="#fff"/>
<circle class="rg" cx="440" cy="686.2" r="3.1" fill="#000"/>
<circle class="rg" cx="440.6" cy="686.2" r="3.1" fill="#fff"/>
<circle class="rg" cx="446" cy="686.2" r="3.1" fill="#000"/>
<circle class="rg" cx="448" cy="686.2" r="3.1" fill="#fff"/>
<circle class="rg" cx="454" cy="686.2" r="3.1" fill="#000"/>
<circle class="rg" cx="458" cy="686.2" r="3.1" fill="#fff"/>
<circle class="rg" cx="460" cy="686.2" r="3.1" fill="#000"/>
<circle class="rg" cx="464.4" cy="686.2" r="3.1" fill="#fff"/>
<circle class="rg" cx="465" cy="686.2" r="3.1" fill="#000"/>
<circle class="rg" cx="467.5" cy="686.2" r="3.1" fill="#fff"/>
<circle class="rg" cx="470" cy="686.2" r="3.1" fill="#000"/>
<circle class="rg" cx="471.5" cy="686.2" r="3.1" fill="#fff"/>
<circle class="rg" cx="476" cy="686.2" r="3.1" fill="#fff"/>
<circle class="rg" cx="478.7" cy="686.2" r="3.1" fill="#000"/>
<circle class="rg" cx="481.2" cy="686.2" r="3.1" fill="#fff"/>
<circle class="rg" cx="483.5" cy="686.2" r="3.1" fill="#000"/>
<circle class="rg" cx="487" cy="686.2" r="3.1" fill="#fff"/>
<circle class="rg" cx="488.7" cy="686.2" r="3.1" fill="#000"/>
<circle class="rg" cx="491" cy="686.2" r="3.1" fill="#fff"/>
<circle class="rg" cx="492.3" cy="686.2" r="3.1" fill="#000"/>
<circle class="rg" cx="494.9" cy="686.2" r="3.1" fill="#fff"/>
<circle class="rg" cx="497.3" cy="686.2" r="3.1" fill="#000"/>
<circle class="rg" cx="500.5" cy="686.2" r="3.1" fill="#fff"/>
<circle class="rg" cx="505.8" cy="686.2" r="3.1" fill="#000"/>
<circle class="rg" cx="508" cy="686.2" r="3.1" fill="#fff"/>
<circle class="rg" cx="511" cy="686.2" r="3.1" fill="#fff"/>
<circle class="rg" cx="514.4" cy="686.2" r="3.1" fill="#000"/>
<circle class="rg" cx="517.8" cy="686.2" r="3.1" fill="#fff"/>
<circle class="rg" cx="519.8" cy="686.2" r="3.1" fill="#000"/>
<circle class="rg" cx="522" cy="686.2" r="3.1" fill="#fff"/>
<circle class="rg" cx="525" cy="686.2" r="3.1" fill="#fff"/>
<circle class="rg" cx="525.3" cy="686.2" r="3.1" fill="#000"/>
<circle class="rg" cx="527.6" cy="686.2" r="3.1" fill="#000"/>
<circle class="rg" cx="529" cy="686.2" r="3.1" fill="#000"/>
<circle class="rg" cx="535" cy="686.2" r="3.1" fill="#fff"/>
<circle class="rg" cx="540" cy="686.2" r="3.1" fill="#fff"/>
<circle class="rg" cx="542.5" cy="686.2" r="3.1" fill="#000"/>
<circle class="rg" cx="545.6" cy="686.2" r="3.1" fill="#000"/>
<circle class="rg" cx="551" cy="686.2" r="3.1" fill="#000"/>
<circle class="rg" cx="557.3" cy="686.2" r="3.1" fill="#fff"/>
<circle class="rg" cx="560.5" cy="686.2" r="3.1" fill="#fff"/>
<circle class="rg" cx="565" cy="686.2" r="3.1" fill="#fff"/>
<circle class="rg" cx="569.8" cy="686.2" r="3.1" fill="#000"/>
<circle class="rg" cx="571.5" cy="686.2" r="3.1" fill="#000"/>
<circle class="rg" cx="573.75" cy="686.2" r="3.1" fill="#000"/>
<circle class="rg" cx="575.3" cy="686.2" r="3.1" fill="#fff"/>
<circle class="rg" cx="579.2" cy="686.2" r="3.1" fill="#fff"/>
<circle class="rg" cx="581.5" cy="686.2" r="3.1" fill="#fff"/>
<circle class="rg" cx="585" cy="686.2" r="3.1" fill="#000"/>
<circle class="rg" cx="587" cy="686.2" r="3.1" fill="#000"/>
<circle class="rg" cx="588.5" cy="686.2" r="3.1" fill="#000"/>
<circle class="rg" cx="594.8" cy="686.2" r="3.1" fill="#fff"/>
<circle class="rg" cx="598" cy="686.2" r="3.1" fill="#fff"/>
<circle class="rg" cx="603.6" cy="686.2" r="3.1" fill="#000"/>
<circle class="rg" cx="604.8" cy="686.2" r="3.1" fill="#000"/>
<circle class="rg" cx="606.8" cy="686.2" r="3.1" fill="#000"/>
<circle class="rg" cx="619.8" cy="686.2" r="3.1" fill="#fff"/>
<circle class="rg" cx="621.4" cy="686.2" r="3.1" fill="#fff"/>
<circle class="rg" cx="623.75" cy="686.2" r="3.1" fill="#fff"/>
<circle class="rg" cx="634.7" cy="686.2" r="3.1" fill="#000"/>
<circle class="rg" cx="636.25" cy="686.2" r="3.1" fill="#000"/>
<circle class="rg" cx="637.8" cy="686.2" r="3.1" fill="#000"/>
<circle class="rg" cx="649.5" cy="686.2" r="3.1" fill="#fff"/>
<circle class="rg" cx="652.6" cy="686.2" r="3.1" fill="#fff"/>
<circle class="rg" cx="655" cy="686.2" r="3.1" fill="#fff"/>
<circle class="rg" cx="662.8" cy="686.2" r="3.1" fill="#000"/>
<circle class="rg" cx="669.8" cy="686.2" r="3.1" fill="#000"/>
<circle class="rg" cx="673.75" cy="686.2" r="3.1" fill="#000"/>
<circle class="rg" cx="681.9" cy="686.2" r="3.1" fill="#fff"/>
<circle class="rg" cx="684.2" cy="686.2" r="3.1" fill="#fff"/>
<circle class="rg" cx="685.8" cy="686.2" r="3.1" fill="#fff"/>
<circle class="rg" cx="695" cy="686.2" r="3.1" fill="#000"/>
<circle class="rg" cx="696.7" cy="686.2" r="3.1" fill="#000"/>
<circle class="rg" cx="699.8" cy="686.2" r="3.1" fill="#000"/>
<circle class="rg" cx="708.4" cy="686.2" r="3.1" fill="#fff"/>
<circle class="rg" cx="711.6" cy="686.2" r="3.1" fill="#fff"/>
<circle class="rg" cx="713.9" cy="686.2" r="3.1" fill="#fff"/>
<circle class="rg" cx="725.6" cy="686.2" r="3.1" fill="#000"/>
<circle class="rg" cx="728.75" cy="686.2" r="3.1" fill="#000"/>
<circle class="rg" cx="736.6" cy="686.2" r="3.1" fill="#fff"/>
<circle class="rg" cx="739.7" cy="686.2" r="3.1" fill="#fff"/>
<circle class="rg" cx="742.8" cy="686.2" r="3.1" fill="#fff"/>
<circle class="rg" cx="747.5" cy="686.2" r="3.1" fill="#000"/>
<circle class="rg" cx="755.3" cy="686.2" r="3.1" fill="#fff"/>
<circle class="rg" cx="757.7" cy="686.2" r="3.1" fill="#fff"/>
<circle class="rg" cx="759.2" cy="686.2" r="3.1" fill="#fff"/>
<circle class="rg" cx="765.5" cy="686.2" r="3.1" fill="#000"/>
<circle class="rg" cx="769.4" cy="686.2" r="3.1" fill="#000"/>
<circle class="rg" cx="772.5" cy="686.2" r="3.1" fill="#000"/>
<circle class="rg" cx="777.2" cy="686.2" r="3.1" fill="#000"/>
<circle class="rg" cx="781.9" cy="686.2" r="3.1" fill="#000"/>
<circle class="rg" cx="785" cy="686.2" r="3.1" fill="#fff"/>
<circle class="rg" cx="787.3" cy="686.2" r="3.1" fill="#fff"/>
<circle class="rg" cx="790.5" cy="686.2" r="3.1" fill="#fff"/>
<circle class="rg" cx="792.8" cy="686.2" r="3.1" fill="#000"/>
<circle class="rg" cx="802.2" cy="686.2" r="3.1" fill="#000"/>
<circle class="rg" cx="810.8" cy="686.2" r="3.1" fill="#fff"/>
<circle class="rg" cx="814.7" cy="686.2" r="3.1" fill="#fff"/>
<circle class="rg" cx="832.7" cy="686.2" r="3.1" fill="#000"/>
<circle class="rg" cx="835" cy="686.2" r="3.1" fill="#000"/>
<circle class="rg" cx="843.7" cy="686.2" r="3.1" fill="#fff"/>
<circle class="rg" cx="846.8" cy="686.2" r="3.1" fill="#fff"/>
<circle class="rg" cx="853.5" cy="686.2" r="3.1" fill="#000"/>
<circle class="rg" cx="857.2" cy="686.2" r="3.1" fill="#000"/>
<circle class="rg" cx="869.7" cy="686.2" r="3.1" fill="#fff"/>
<circle class="rg" cx="873.6" cy="686.2" r="3.1" fill="#fff"/>
<circle class="rg" cx="875.9" cy="686.2" r="3.1" fill="#fff"/>
<circle class="rg" cx="885.2" cy="686.2" r="3.1" fill="#000"/>
<circle class="rg" cx="890.2" cy="686.2" r="3.1" fill="#000"/>
<circle class="rg" cx="892.9" cy="686.2" r="3.1" fill="#000"/>
<circle class="rg" cx="897" cy="686.2" r="3.1" fill="#fff"/>
<circle class="rg" cx="900" cy="686.2" r="3.1" fill="#fff"/>
<circle class="rg" cx="908.5" cy="686.2" r="3.1" fill="#000"/>
<circle class="rg" cx="910.8" cy="686.2" r="3.1" fill="#000"/>
<circle class="rg" cx="917.9" cy="686.2" r="3.1" fill="#fff"/>
<circle class="rg" cx="920" cy="686.2" r="3.1" fill="#fff"/>
<circle class="rg" cx="922.6" cy="686.2" r="3.1" fill="#fff"/>
<circle class="rg" cx="927" cy="686.2" r="3.1" fill="#000"/>
<circle class="rg" cx="928.75" cy="686.2" r="3.1" fill="#fff"/>
<circle class="rg" cx="931.2" cy="686.2" r="3.1" fill="#000"/>
<circle class="rg" cx="932.7" cy="686.2" r="3.1" fill="#fff"/>
<circle class="rg" cx="934" cy="686.2" r="3.1" fill="#000"/>
<circle class="rg" cx="936.5" cy="686.2" r="3.1" fill="#fff"/>
<circle class="rg" cx="938" cy="686.2" r="3.1" fill="#000"/>
<circle class="rg" cx="942" cy="686.2" r="3.1" fill="#fff"/>
<circle class="rg" cx="952" cy="686.2" r="3.1" fill="#000"/>
<circle class="rg" cx="956.9" cy="686.2" r="3.1" fill="#fff"/>
<circle class="rg" cx="960" cy="686.2" r="3.1" fill="#000"/>
<circle class="rg" cx="964" cy="686.2" r="3.1" fill="#fff"/>
<circle class="rg" cx="967" cy="686.2" r="3.1" fill="#000"/>
<circle class="rg" cx="969.4" cy="686.2" r="3.1" fill="#fff"/>
<circle class="rg" cx="971.9" cy="686.2" r="3.1" fill="#000"/>
<circle class="rg" cx="973.8" cy="686.2" r="3.1" fill="#fff"/>
<circle class="rg" cx="977.2" cy="686.2" r="3.1" fill="#000"/>
<circle class="rg" cx="986.3" cy="686.2" r="3.1" fill="#fff"/>
<circle class="rg" cx="992.8" cy="686.2" r="3.1" fill="#fff"/>
<circle class="rg" cx="994.4" cy="686.2" r="3.1" fill="#fff"/>
<circle class="rg" cx="1005.3" cy="686.2" r="3.1" fill="#000"/>
<circle class="rg" cx="1009.2" cy="686.2" r="3.1" fill="#000"/>
<circle class="rg" cx="1012.6" cy="686.2" r="3.1" fill="#000"/>
<circle class="rg" cx="1014.8" cy="686.2" r="3.1" fill="#000"/>
<circle class="rg" cx="1022.6" cy="686.2" r="3.1" fill="#fff"/>
<circle class="rg" cx="1025.8" cy="686.2" r="3.1" fill="#fff"/>
<circle class="rg" cx="1039.8" cy="686.2" r="3.1" fill="#000"/>
<circle class="rg" cx="1043" cy="686.2" r="3.1" fill="#000"/>
<circle class="rg" cx="1055" cy="686.2" r="3.1" fill="#fff"/>
<circle class="rg" cx="1060.5" cy="686.2" r="3.1" fill="#fff"/>
<circle class="rg" cx="1066" cy="686.2" r="3.1" fill="#fff"/>
<circle class="rg" cx="1071.4" cy="686.2" r="3.1" fill="#000"/>
<circle class="rg" cx="1075.3" cy="686.2" r="3.1" fill="#000"/>
<circle class="rg" cx="1081.6" cy="686.2" r="3.1" fill="#fff"/>
<circle class="rg" cx="1082.3" cy="686.2" r="3.1" fill="#fff"/>
<circle class="rg" cx="1087" cy="686.2" r="3.1" fill="#000"/>
<circle class="rg" cx="1091" cy="686.2" r="3.1" fill="#000"/>
<circle class="rg" cx="1095.6" cy="686.2" r="3.1" fill="#fff"/>
<circle class="rg" cx="1098.75" cy="686.2" r="3.1" fill="#fff"/>
<circle class="rg" cx="1102.7" cy="686.2" r="3.1" fill="#fff"/>
<circle class="rg" cx="1106.6" cy="686.2" r="3.1" fill="#000"/>
<circle class="rg" cx="1110.5" cy="686.2" r="3.1" fill="#fff"/>
<circle class="rg" cx="1119" cy="686.2" r="3.1" fill="#000"/>
<circle class="rg" cx="1122.2" cy="686.2" r="3.1" fill="#000"/>
<circle class="rg" cx="1125.3" cy="686.2" r="3.1" fill="#000"/>
<circle class="rg" cx="1132.3" cy="686.2" r="3.1" fill="#fff"/>
<circle class="rg" cx="1135.5" cy="686.2" r="3.1" fill="#fff"/>
<circle class="rg" cx="1138.6" cy="686.2" r="3.1" fill="#fff"/>
<circle class="rg" cx="1143.3" cy="686.2" r="3.1" fill="#000"/>
<circle class="rg" cx="1145.6" cy="686.2" r="3.1" fill="#000"/>
<circle class="rg" cx="1148" cy="686.2" r="3.1" fill="#000"/>
<circle class="rg" cx="1156.6" cy="686.2" r="3.1" fill="#fff"/>
<circle class="rg" cx="1158" cy="686.2" r="3.1" fill="#fff"/>
<circle class="rg" cx="1168.3" cy="686.2" r="3.1" fill="#000"/>
<circle class="rg" cx="1171.4" cy="686.2" r="3.1" fill="#000"/>
<circle class="rg" cx="1173.75" cy="686.2" r="3.1" fill="#000"/>
<circle class="rg" cx="1182.6" cy="686.2" r="3.1" fill="#fff"/>
<circle class="rg" cx="1185.3" cy="686.2" r="3.1" fill="#000"/>
<circle class="rg" cx="1189.7" cy="686.2" r="3.1" fill="#000"/>
<circle class="rg" cx="1192.8" cy="686.2" r="3.1" fill="#fff"/>
<circle class="rg" cx="1195.5" cy="686.2" r="3.1" fill="#fff"/>
<circle class="rg" cx="1199.9" cy="686.2" r="3.1" fill="#000"/>
<circle class="rg" cx="1202.7" cy="686.2" r="3.1" fill="#fff"/>
<circle class="rg" cx="1204.8" cy="686.2" r="3.1" fill="#000"/>
<text class="xl" transform="translate(142.9,714.5) rotate(-90) scale(1,1.03)">G150</text>
<text class="xl" transform="translate(153.55,657.5) rotate(-90) scale(1,1.03)">G135</text>
<text class="xl" transform="translate(159.2,714.5) rotate(-90) scale(1,1.03)">G180</text>
<text class="xl" transform="translate(171.05,657.5) rotate(-90) scale(1,1.03)">H2O2</text>
<text class="xl" transform="translate(179.8,714.5) rotate(-90) scale(1,1.03)">Paraq</text>
<text class="xl" transform="translate(187.3,657.5) rotate(-90) scale(1,1.03)">Oxctl</text>
<text class="xl" transform="translate(198.55,714.5) rotate(-90) scale(1,1.03)">LBGexp</text>
<text class="xl" transform="translate(211.05,657.5) rotate(-90) scale(1,1.03)">dia15</text>
<text class="xl" transform="translate(225.4,714.5) rotate(-90) scale(1,1.03)">Diami</text>
<text class="xl" transform="translate(238.55,657.5) rotate(-90) scale(1,1.03)">dia5</text>
<text class="xl" transform="translate(254.8,714.5) rotate(-90) scale(1,1.03)">C90</text>
<text class="xl" transform="translate(267.9,657.5) rotate(-90) scale(1,1.03)">C30</text>
<text class="xl" transform="translate(282.3,714.5) rotate(-90) scale(1,1.03)">Cold</text>
<text class="xl" transform="translate(296.05,657.5) rotate(-90) scale(1,1.03)">LPh</text>
<text class="xl" transform="translate(304.8,714.5) rotate(-90) scale(1,1.03)">HPh</text>
<text class="xl" transform="translate(314.8,657.5) rotate(-90) scale(1,1.03)">aero</text>
<text class="xl" transform="translate(331.7,714.5) rotate(-90) scale(1,1.03)">nit</text>
<text class="xl" transform="translate(342.9,657.5) rotate(-90) scale(1,1.03)">ferm</text>
<text class="xl" transform="translate(359.8,714.5) rotate(-90) scale(1,1.03)">GM+150</text>
<text class="xl" transform="translate(365.4,657.5) rotate(-90) scale(1,1.03)">M9−tran</text>
<text class="xl" transform="translate(375.4,714.5) rotate(-90) scale(1,1.03)">MG+150</text>
<text class="xl" transform="translate(382.9,657.5) rotate(-90) scale(1,1.03)">MG+120</text>
<text class="xl" transform="translate(391.7,714.5) rotate(-90) scale(1,1.03)">MG+90</text>
<text class="xl" transform="translate(394.3,657.5) rotate(-90) scale(1,1.03)">MG+60</text>
<text class="xl" transform="translate(401.8,714.5) rotate(-90) scale(1,1.03)">MG+45</text>
<text class="xl" transform="translate(402.8,657.5) rotate(-90) scale(1,1.03)">MG+25</text>
<text class="xl" transform="translate(405.3,714.5) rotate(-90) scale(1,1.03)">MG+15</text>
<text class="xl" transform="translate(408.4,657.5) rotate(-90) scale(1,1.03)">MG+10</text>
<text class="xl" transform="translate(412.8,714.5) rotate(-90) scale(1,1.03)">MG+5</text>
<text class="xl" transform="translate(413.3,657.5) rotate(-90) scale(1,1.03)">MG+t5</text>
<text class="xl" transform="translate(415.3,714.5) rotate(-90) scale(1,1.03)">MG−0.1</text>
<text class="xl" transform="translate(419.5,657.5) rotate(-90) scale(1,1.03)">MG−0.2</text>
<text class="xl" transform="translate(421.5,714.5) rotate(-90) scale(1,1.03)">MG+90</text>
<text class="xl" transform="translate(424.1,657.5) rotate(-90) scale(1,1.03)">MG+60</text>
<text class="xl" transform="translate(427.8,714.5) rotate(-90) scale(1,1.03)">MG+45</text>
<text class="xl" transform="translate(429.3,657.5) rotate(-90) scale(1,1.03)">MG+25</text>
<text class="xl" transform="translate(437.5,714.5) rotate(-90) scale(1,1.03)">MG+15</text>
<text class="xl" transform="translate(442.4,657.5) rotate(-90) scale(1,1.03)">MG−0.2</text>
<text class="xl" transform="translate(444.8,714.5) rotate(-90) scale(1,1.03)">Glucon</text>
<text class="xl" transform="translate(445.4,657.5) rotate(-90) scale(1,1.03)">Fru</text>
<text class="xl" transform="translate(450.8,714.5) rotate(-90) scale(1,1.03)">GM−0.1</text>
<text class="xl" transform="translate(452.8,657.5) rotate(-90) scale(1,1.03)">GM−0.2</text>
<text class="xl" transform="translate(458.8,714.5) rotate(-90) scale(1,1.03)">GM+5</text>
<text class="xl" transform="translate(462.8,657.5) rotate(-90) scale(1,1.03)">GM+10</text>
<text class="xl" transform="translate(464.8,714.5) rotate(-90) scale(1,1.03)">GM+15</text>
<text class="xl" transform="translate(469.2,657.5) rotate(-90) scale(1,1.03)">GM+25</text>
<text class="xl" transform="translate(469.8,714.5) rotate(-90) scale(1,1.03)">GM+45</text>
<text class="xl" transform="translate(472.3,657.5) rotate(-90) scale(1,1.03)">GM+60</text>
<text class="xl" transform="translate(474.8,714.5) rotate(-90) scale(1,1.03)">GM+90</text>
<text class="xl" transform="translate(476.3,657.5) rotate(-90) scale(1,1.03)">GM+120</text>
<text class="xl" transform="translate(483.5,714.5) rotate(-90) scale(1,1.03)">GM+150</text>
<text class="xl" transform="translate(486,657.5) rotate(-90) scale(1,1.03)">GM+5</text>
<text class="xl" transform="translate(488.3,714.5) rotate(-90) scale(1,1.03)">GM+10</text>
<text class="xl" transform="translate(491.8,657.5) rotate(-90) scale(1,1.03)">GM+15</text>
<text class="xl" transform="translate(493.5,714.5) rotate(-90) scale(1,1.03)">GM+25</text>
<text class="xl" transform="translate(495.8,657.5) rotate(-90) scale(1,1.03)">GM+45</text>
<text class="xl" transform="translate(497.1,714.5) rotate(-90) scale(1,1.03)">GM+60</text>
<text class="xl" transform="translate(499.7,657.5) rotate(-90) scale(1,1.03)">GM+90</text>
<text class="xl" transform="translate(502.1,714.5) rotate(-90) scale(1,1.03)">GM+120</text>
<text class="xl" transform="translate(505.3,657.5) rotate(-90) scale(1,1.03)">GM+150</text>
<text class="xl" transform="translate(510.6,714.5) rotate(-90) scale(1,1.03)">GM+90</text>
<text class="xl" transform="translate(512.8,657.5) rotate(-90) scale(1,1.03)">GM+60</text>
<text class="xl" transform="translate(519.2,714.5) rotate(-90) scale(1,1.03)">GM+45</text>
<text class="xl" transform="translate(522.6,657.5) rotate(-90) scale(1,1.03)">GM+25</text>
<text class="xl" transform="translate(524.6,714.5) rotate(-90) scale(1,1.03)">GM+5</text>
<text class="xl" transform="translate(526.8,657.5) rotate(-90) scale(1,1.03)">GM+150</text>
<text class="xl" transform="translate(530.1,714.5) rotate(-90) scale(1,1.03)">GM+5</text>
<text class="xl" transform="translate(539.8,657.5) rotate(-90) scale(1,1.03)">M9−exp</text>
<text class="xl" transform="translate(547.3,714.5) rotate(-90) scale(1,1.03)">M/G</text>
<text class="xl" transform="translate(562.1,657.5) rotate(-90) scale(1,1.03)">Mal</text>
<text class="xl" transform="translate(574.6,714.5) rotate(-90) scale(1,1.03)">Fru</text>
<text class="xl" transform="translate(580.1,657.5) rotate(-90) scale(1,1.03)">Glu</text>
<text class="xl" transform="translate(589.8,714.5) rotate(-90) scale(1,1.03)">SMM</text>
<text class="xl" transform="translate(599.6,657.5) rotate(-90) scale(1,1.03)">BMM</text>
<text class="xl" transform="translate(608.4,714.5) rotate(-90) scale(1,1.03)">Heat</text>
<text class="xl" transform="translate(624.6,657.5) rotate(-90) scale(1,1.03)">Etha</text>
<text class="xl" transform="translate(639.5,714.5) rotate(-90) scale(1,1.03)">Salt</text>
<text class="xl" transform="translate(654.3,657.5) rotate(-90) scale(1,1.03)">Gly</text>
<text class="xl" transform="translate(667.6,714.5) rotate(-90) scale(1,1.03)">HiTm</text>
<text class="xl" transform="translate(686.7,657.5) rotate(-90) scale(1,1.03)">HiOs</text>
<text class="xl" transform="translate(699.8,714.5) rotate(-90) scale(1,1.03)">S1</text>
<text class="xl" transform="translate(713.2,657.5) rotate(-90) scale(1,1.03)">S2</text>
<text class="xl" transform="translate(730.4,714.5) rotate(-90) scale(1,1.03)">S3</text>
<text class="xl" transform="translate(741.4,657.5) rotate(-90) scale(1,1.03)">S4</text>
<text class="xl" transform="translate(752.3,714.5) rotate(-90) scale(1,1.03)">S3</text>
<text class="xl" transform="translate(760.1,657.5) rotate(-90) scale(1,1.03)">S5</text>
<text class="xl" transform="translate(770.3,714.5) rotate(-90) scale(1,1.03)">S6</text>
<text class="xl" transform="translate(789.8,657.5) rotate(-90) scale(1,1.03)">S7</text>
<text class="xl" transform="translate(797.6,714.5) rotate(-90) scale(1,1.03)">S8</text>
<text class="xl" transform="translate(815.6,657.5) rotate(-90) scale(1,1.03)">S6</text>
<text class="xl" transform="translate(837.5,714.5) rotate(-90) scale(1,1.03)">BT</text>
<text class="xl" transform="translate(848.5,657.5) rotate(-90) scale(1,1.03)">B36</text>
<text class="xl" transform="translate(858.3,714.5) rotate(-90) scale(1,1.03)">B60</text>
<text class="xl" transform="translate(874.5,657.5) rotate(-90) scale(1,1.03)">LoTm</text>
<text class="xl" transform="translate(890,714.5) rotate(-90) scale(1,1.03)">Pyr</text>
<text class="xl" transform="translate(901.8,657.5) rotate(-90) scale(1,1.03)">G/S</text>
<text class="xl" transform="translate(913.3,714.5) rotate(-90) scale(1,1.03)">Glucon</text>
<text class="xl" transform="translate(922.7,657.5) rotate(-90) scale(1,1.03)">SMMPr</text>
<text class="xl" transform="translate(931.8,714.5) rotate(-90) scale(1,1.03)">T−5.40H</text>
<text class="xl" transform="translate(933.55,657.5) rotate(-90) scale(1,1.03)">T−4.40H</text>
<text class="xl" transform="translate(936,714.5) rotate(-90) scale(1,1.03)">T−3.40H</text>
<text class="xl" transform="translate(937.5,657.5) rotate(-90) scale(1,1.03)">T−2.40H</text>
<text class="xl" transform="translate(938.8,714.5) rotate(-90) scale(1,1.03)">T−1.40H</text>
<text class="xl" transform="translate(941.3,657.5) rotate(-90) scale(1,1.03)">T−1.10H</text>
<text class="xl" transform="translate(942.8,714.5) rotate(-90) scale(1,1.03)">T−0.40H</text>
<text class="xl" transform="translate(946.8,657.5) rotate(-90) scale(1,1.03)">T0.0H</text>
<text class="xl" transform="translate(956.8,714.5) rotate(-90) scale(1,1.03)">T0.30H</text>
<text class="xl" transform="translate(961.7,657.5) rotate(-90) scale(1,1.03)">T1.0H</text>
<text class="xl" transform="translate(964.8,714.5) rotate(-90) scale(1,1.03)">T1.30H</text>
<text class="xl" transform="translate(968.8,657.5) rotate(-90) scale(1,1.03)">T2.0H</text>
<text class="xl" transform="translate(971.8,714.5) rotate(-90) scale(1,1.03)">T2.30H</text>
<text class="xl" transform="translate(974.2,657.5) rotate(-90) scale(1,1.03)">T3.0H</text>
<text class="xl" transform="translate(976.7,714.5) rotate(-90) scale(1,1.03)">T3.30H</text>
<text class="xl" transform="translate(978.6,657.5) rotate(-90) scale(1,1.03)">T4.0H</text>
<text class="xl" transform="translate(982,714.5) rotate(-90) scale(1,1.03)">T5.0H</text>
<text class="xl" transform="translate(991.1,657.5) rotate(-90) scale(1,1.03)">M9−stat</text>
<text class="xl" transform="translate(1010.1,714.5) rotate(-90) scale(1,1.03)">BC</text>
<text class="xl" transform="translate(1027.4,657.5) rotate(-90) scale(1,1.03)">Sw</text>
<text class="xl" transform="translate(1044.6,714.5) rotate(-90) scale(1,1.03)">LPhT</text>
<text class="xl" transform="translate(1059.8,657.5) rotate(-90) scale(1,1.03)">LBGstat</text>
<text class="xl" transform="translate(1076.2,714.5) rotate(-90) scale(1,1.03)">LBGtran</text>
<text class="xl" transform="translate(1086.4,657.5) rotate(-90) scale(1,1.03)">M0t45</text>
<text class="xl" transform="translate(1091.8,714.5) rotate(-90) scale(1,1.03)">M40t45</text>
<text class="xl" transform="translate(1100.4,657.5) rotate(-90) scale(1,1.03)">Lbtran</text>
<text class="xl" transform="translate(1111.4,714.5) rotate(-90) scale(1,1.03)">Mt0</text>
<text class="xl" transform="translate(1115.3,657.5) rotate(-90) scale(1,1.03)">M40t45</text>
<text class="xl" transform="translate(1123.8,714.5) rotate(-90) scale(1,1.03)">M40t90</text>
<text class="xl" transform="translate(1137.1,657.5) rotate(-90) scale(1,1.03)">M0t90</text>
<text class="xl" transform="translate(1148.1,714.5) rotate(-90) scale(1,1.03)">Lbstat</text>
<text class="xl" transform="translate(1161.4,657.5) rotate(-90) scale(1,1.03)">BI</text>
<text class="xl" transform="translate(1173.1,714.5) rotate(-90) scale(1,1.03)">S0</text>
<text class="xl" transform="translate(1187.4,657.5) rotate(-90) scale(1,1.03)">M0t45</text>
<text class="xl" transform="translate(1190.1,714.5) rotate(-90) scale(1,1.03)">dia0</text>
<text class="xl" transform="translate(1197.6,657.5) rotate(-90) scale(1,1.03)">Lbexp</text>
<text class="xl" transform="translate(1204.7,714.5) rotate(-90) scale(1,1.03)">Mt0</text>
<text class="xl" transform="translate(1207.5,657.5) rotate(-90) scale(1,1.03)">Lbexp</text>
<text class="xl" transform="translate(1209.6,714.5) rotate(-90) scale(1,1.03)">Mt0</text>
</svg>
</body>
</html>
